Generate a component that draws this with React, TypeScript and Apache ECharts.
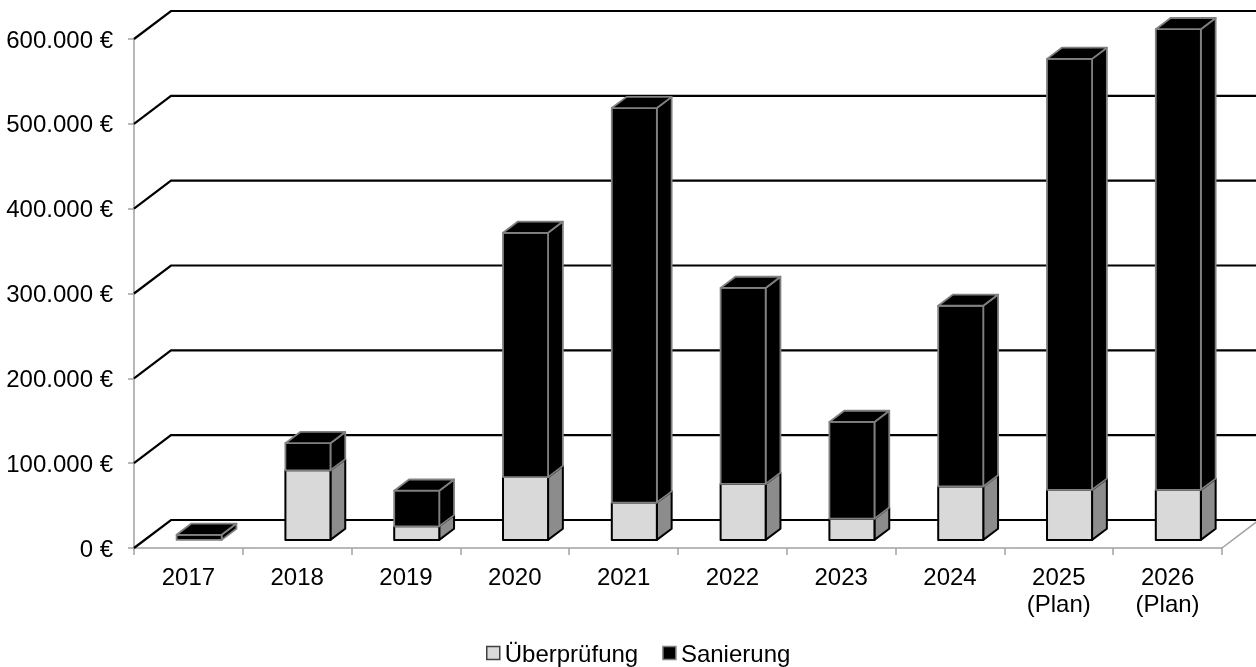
import React, { useEffect, useRef } from "react";
import * as echarts from "echarts";

const categories = ["2017", "2018", "2019", "2020", "2021", "2022", "2023", "2024", "2025\n(Plan)", "2026\n(Plan)"];
const ueberpruefung = [0, 82000, 16000, 74000, 44000, 66000, 25000, 63000, 59000, 59000];
const sanierung = [6000, 32000, 42000, 288000, 465000, 231000, 114000, 213000, 508000, 543000];
const yTicks = [0, 100000, 200000, 300000, 400000, 500000, 600000];

const FONT = "'Liberation Sans', Arial, sans-serif";
const DX = 37; // full floor depth, x
const DY = 28; // full floor depth, y
const D0 = 0.29; // bar front depth fraction
const DT = 0.4; // bar depth fraction
const BARW = 0.414;

type Style = { front: string; side: string; top: string; stroke: string; lw: number };
const uStyle: Style = { front: "#d9d9d9", side: "#8c8c8c", top: "#d9d9d9", stroke: "#000000", lw: 2 };
const sStyle: Style = { front: "#000000", side: "#000000", top: "#000000", stroke: "#808080", lw: 1.8 };

function makeRender(st: Style) {
  return (params: any, api: any) => {
    const idx = api.value(0);
    const lo = api.value(1);
    const hi = api.value(2);
    const above = api.value(3);
    if (hi - lo <= 0) return { type: "group", children: [] };
    const pLo = api.coord([idx, lo]);
    const pHi = api.coord([idx, hi]);
    const band = api.size([1, 0])[0];
    const w = band * BARW;
    const x0 = pLo[0] - w / 2 + DX * D0;
    const yb = pLo[1] - DY * D0;
    const yt = pHi[1] - DY * D0;
    const ddx = DX * DT;
    const ddy = DY * DT;
    const children: any[] = [
      {
        type: "polygon",
        shape: { points: [[x0 + w, yb], [x0 + w + ddx, yb - ddy], [x0 + w + ddx, yt - ddy], [x0 + w, yt]] },
        style: { fill: st.side, stroke: st.stroke, lineWidth: st.lw, lineJoin: "round" },
      },
      {
        type: "rect",
        shape: { x: x0, y: yt, width: w, height: yb - yt },
        style: { fill: st.front, stroke: st.stroke, lineWidth: st.lw, lineJoin: "round" },
      },
    ];
    if (!above) {
      children.push({
        type: "polygon",
        shape: { points: [[x0, yt], [x0 + ddx, yt - ddy], [x0 + w + ddx, yt - ddy], [x0 + w, yt]] },
        style: { fill: st.top, stroke: st.stroke, lineWidth: st.lw, lineJoin: "round" },
      });
    }
    return { type: "group", children };
  };
}

export default function App() {
  const ref = useRef<HTMLDivElement>(null);
  useEffect(() => {
    if (!ref.current) return;
    const chart = echarts.init(ref.current, null, { renderer: "svg" });
    const uData = categories.map((_, i) => [i, 0, ueberpruefung[i], sanierung[i]]);
    const sData = categories.map((_, i) => [i, ueberpruefung[i], ueberpruefung[i] + sanierung[i], 0]);
    const gData = yTicks.map((v) => [0, v]);
    chart.setOption({
      animation: false,
      textStyle: { fontFamily: FONT },
      grid: { left: 134, right: 34, top: 39, bottom: 119 },
      legend: {
        top: 641,
        left: 486,
        itemWidth: 13,
        itemHeight: 13,
        itemGap: 24,
        icon: "rect",
        padding: 0,
        textStyle: { fontSize: 24, color: "#000", fontFamily: FONT },
        data: [
          { name: "Überprüfung", itemStyle: { color: "#d9d9d9", borderColor: "#404040", borderWidth: 1.5 } },
          { name: "Sanierung", itemStyle: { color: "#000000", borderColor: "#808080", borderWidth: 1.5 } },
        ],
      },
      xAxis: {
        type: "category",
        data: categories,
        boundaryGap: true,
        axisLine: { show: true, lineStyle: { color: "#a0a0a0", width: 1.5 } },
        axisTick: { show: true, length: 7, interval: 0, lineStyle: { color: "#a0a0a0", width: 1.5 } },
        axisLabel: { interval: 0, fontSize: 24, lineHeight: 27, color: "#000", margin: 15, fontFamily: FONT },
        splitLine: { show: false },
      },
      yAxis: {
        type: "value",
        min: 0,
        max: 600000,
        interval: 100000,
        axisLine: { show: true, lineStyle: { color: "#a0a0a0", width: 1.5 } },
        axisTick: { show: true, length: 6, lineStyle: { color: "#a0a0a0", width: 1.5 } },
        splitLine: { show: false },
        axisLabel: {
          fontSize: 24,
          color: "#000",
          margin: 21,
          fontFamily: FONT,
          formatter: (v: number) => (v === 0 ? "0 €" : `${Math.round(v / 1000)}.000 €`),
        },
      },
      series: [
        {
          name: "grid3d",
          type: "custom",
          z: 1,
          silent: true,
          clip: false,
          data: gData,
          encode: { x: 0, y: 1 },
          renderItem: (params: any, api: any) => {
            const v = api.value(1);
            const y = api.coord([0, v])[1];
            const cs = params.coordSys;
            const children: any[] = [
              {
                type: "polyline",
                shape: { points: [[cs.x, y], [cs.x + DX, y - DY], [cs.x + cs.width + DX, y - DY]] },
                style: { stroke: "#000", lineWidth: 2.2, fill: null },
              },
            ];
            if (v === 0) {
              children.push({
                type: "line",
                shape: { x1: cs.x + cs.width, y1: y, x2: cs.x + cs.width + DX, y2: y - DY },
                style: { stroke: "#a0a0a0", lineWidth: 1.5 },
              });
            }
            return { type: "group", children };
          },
        },
        {
          name: "Überprüfung",
          type: "custom",
          z: 2,
          clip: false,
          itemStyle: { color: "#d9d9d9" },
          data: uData,
          encode: { x: 0, y: [1, 2] },
          renderItem: makeRender(uStyle),
        },
        {
          name: "Sanierung",
          type: "custom",
          z: 2,
          clip: false,
          itemStyle: { color: "#000000" },
          data: sData,
          encode: { x: 0, y: [1, 2] },
          renderItem: makeRender(sStyle),
        },
      ],
    });
    return () => chart.dispose();
  }, []);
  return <div ref={ref} style={{ position: "fixed", left: 0, top: 0, width: 1256, height: 667 }} />;
}
